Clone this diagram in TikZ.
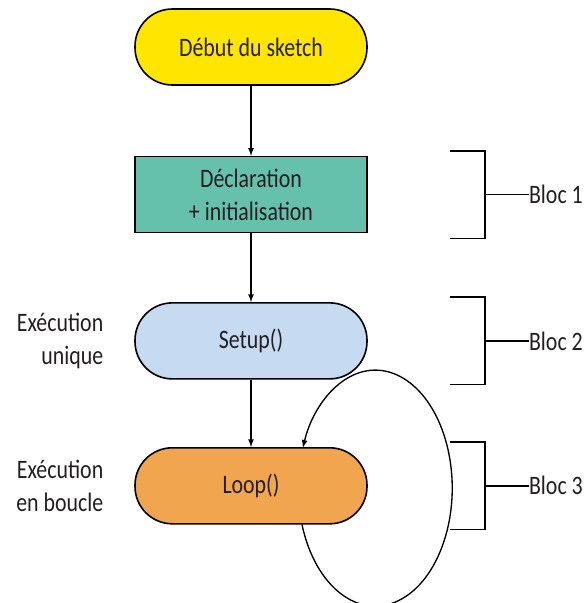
\documentclass[tikz,border=0pt]{standalone}
\usepackage{fontspec}
\setmainfont[FakeStretch=0.82]{Carlito}
\usepackage{xcolor}
\usepackage{tikz}
\usetikzlibrary{arrows, positioning}

\definecolor{startyellow}{HTML}{FFE600}
\definecolor{decltea}{HTML}{66C1AC}
\definecolor{setupblue}{HTML}{C6DBF2}
\definecolor{looporange}{HTML}{F2A54F}
\definecolor{inkgray}{HTML}{231F20}

\begin{document}
\begin{tikzpicture}[
    x=0.75pt, y=-0.75pt,
    node distance=52.5pt,
    font=\fontsize{20}{25}\selectfont,
    every node/.style={text=inkgray},
    term/.style={rectangle, rounded corners=28pt, draw, line width=1.2pt, minimum width=174pt, minimum height=57pt, align=center},
    box/.style={rectangle, draw, line width=1.2pt, minimum width=174pt, minimum height=57pt, align=center},
    side/.style={align=right, inner sep=0pt},
    blocl/.style={anchor=west, inner sep=0pt},
    arrow/.style={->, >=latex, line width=1pt},
    bracket/.style={line width=1.2pt}
]
\useasboundingbox (0,0) rectangle (584,603);

\node[term, fill=startyellow] (start) at (251,47) {Début du sketch};
\node[box, fill=decltea, below=of start] (decl) {Déclaration\\+ initialisation};
\node[term, fill=setupblue, below=51.5pt of decl] (setup) {Setup()};
\node[term, fill=looporange, below=50.5pt of setup] (loop) {Loop()};

\node[side, left=23pt of setup] (once) {Exécution\\unique};
\node[side, left=23pt of loop] (again) {Exécution\\en boucle};

\draw[arrow] (start) -- (decl);
\draw[arrow] (decl) -- (setup);
\draw[arrow] (setup) -- (loop);

% loop back
\coordinate (ls) at ([shift={(51,0)}]loop.south);
\draw[arrow] (ls) arc[start angle=198, end angle=520, x radius=57.75pt, y radius=88.5pt];

% brackets
\foreach \n/\i in {decl/1, setup/2, loop/3}{
  \draw[bracket] ([shift={(82,-5)}]\n.north east) -- ++(35,0) -- ([shift={(117,5)}]\n.south east) -- ++(-35,0);
  \node[blocl] (bloc\i) at ([shift={(161,0)}]\n.east) {Bloc \i};
  \draw[bracket] ([shift={(117,0)}]\n.east) -- (bloc\i.west);
}

\end{tikzpicture}
\end{document}
